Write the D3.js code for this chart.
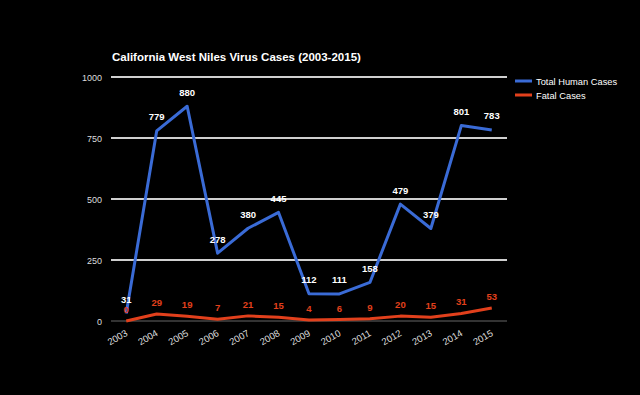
<!DOCTYPE html>
<html>
<head>
<meta charset="utf-8">
<script src="https://cdn.jsdelivr.net/npm/d3@7"></script>
<style>
  body { margin: 0; background: #000; }
  svg { display: block; font-family: Arial, "Liberation Sans", sans-serif; }
</style>
</head>
<body>
<svg id="chart" width="640" height="395"></svg>
<script>
const years = ["2003","2004","2005","2006","2007","2008","2009","2010","2011","2012","2013","2014","2015"];
const totalCases = [31, 779, 880, 278, 380, 445, 112, 111, 158, 479, 379, 801, 783];
const fatalCases = [0, 29, 19, 7, 21, 15, 4, 6, 9, 20, 15, 31, 53];
const yTicks = [0, 250, 500, 750, 1000];
const seriesNames = ["Total Human Cases", "Fatal Cases"];
const seriesColors = ["#3a6bd6", "#e2401c"];

const svg = d3.select("#chart");
svg.append("rect").attr("width", 640).attr("height", 395).attr("fill", "#000");

const margin = { left: 111, right: 133, top: 77, bottom: 74 };
const width = 640 - margin.left - margin.right;
const height = 395 - margin.top - margin.bottom;

const x = d3.scalePoint().domain(years).range([0, width]).padding(0.5);
const y = d3.scaleLinear().domain([0, 1000]).range([height, 0]);

const g = svg.append("g").attr("transform", `translate(${margin.left},${margin.top})`);

// Title
svg.append("text")
    .attr("x", 112).attr("y", 61)
    .attr("fill", "#fff")
    .attr("font-size", "11.5px")
    .attr("font-weight", "bold")
    .text("California West Niles Virus Cases (2003-2015)");

// Gridlines
g.selectAll(".grid").data(yTicks).enter().append("line")
    .attr("x1", 0).attr("x2", width)
    .attr("y1", d => y(d)).attr("y2", d => y(d))
    .attr("stroke", d => d === 0 ? "#333" : "#cfcfcf")
    .attr("stroke-width", 2);

// Y tick labels
g.selectAll(".ylab").data(yTicks).enter().append("text")
    .attr("x", -9).attr("y", d => y(d) + 3.5)
    .attr("text-anchor", "end")
    .attr("fill", "#ddd")
    .attr("font-size", "9px")
    .text(d => d);

// X tick labels, rotated
g.selectAll(".xlab").data(years).enter().append("text")
    .attr("transform", d => `translate(${x(d) + 2},${height + 14}) rotate(-30)`)
    .attr("text-anchor", "end")
    .attr("fill", "#ddd")
    .attr("font-size", "9.5px")
    .text(d => d);

const line = d3.line()
    .x((d, i) => x(years[i]))
    .y(d => y(d));

const series = [totalCases, fatalCases];

series.forEach((vals, s) => {
    g.append("path")
        .attr("d", line(vals))
        .attr("fill", "none")
        .attr("stroke", seriesColors[s])
        .attr("stroke-width", 3)
        .attr("stroke-linejoin", "round");
});

// Data labels - fatal first so totals draw over
[1, 0].forEach(s => {
    g.selectAll(".lab" + s).data(series[s]).enter().append("text")
        .attr("x", (d, i) => x(years[i]))
        .attr("y", d => y(d) - (s === 0 ? 10.5 : 8))
        .attr("text-anchor", "middle")
        .attr("fill", s === 0 ? "#fff" : "#e2401c")
        .attr("font-size", "9.5px")
        .attr("font-weight", "bold")
        .text(d => d);
});

// Legend
const legend = svg.append("g").attr("transform", "translate(515,81)");
seriesNames.forEach((name, i) => {
    const row = legend.append("g").attr("transform", `translate(0,${i * 14})`);
    row.append("line")
        .attr("x1", 0).attr("x2", 17)
        .attr("stroke", seriesColors[i])
        .attr("stroke-width", 3);
    row.append("text")
        .attr("x", 21).attr("y", 3.5)
        .attr("fill", "#fff")
        .attr("font-size", "9.3px")
        .text(name);
});
</script>
</body>
</html>
